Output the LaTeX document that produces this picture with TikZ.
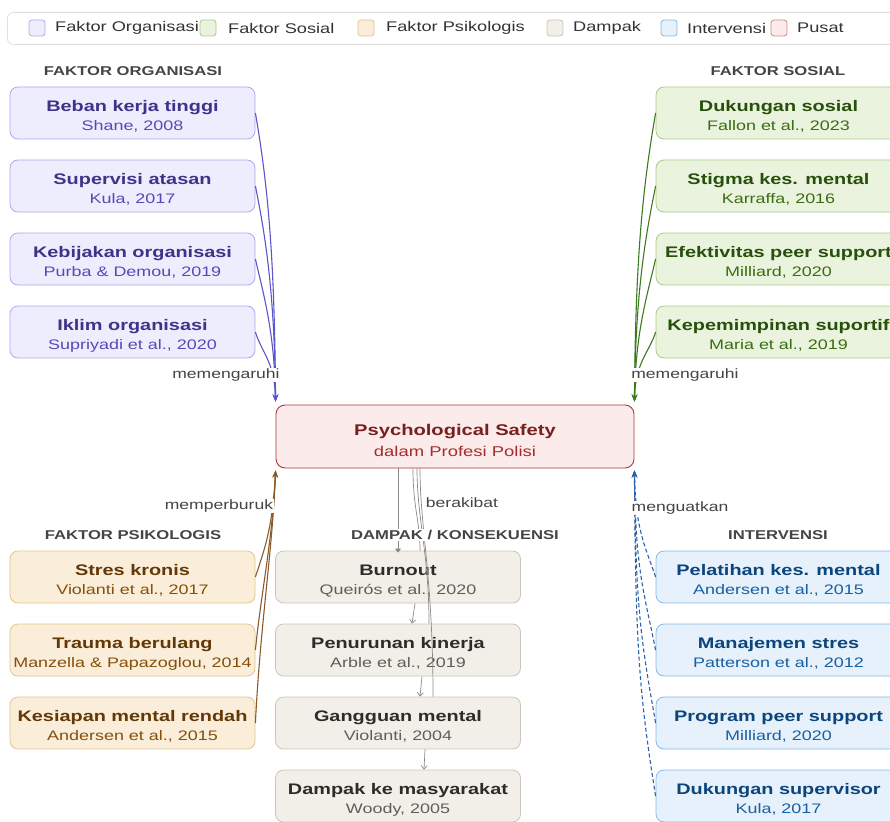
\documentclass[tikz,border=0pt]{standalone}
\usepackage{fontspec}
\setmainfont[FakeStretch=1.3]{Liberation Sans}
\usetikzlibrary{arrows.meta}
\definecolor{orgfill}{HTML}{EEEDFE}\definecolor{orgline}{HTML}{AFA9EC}\definecolor{orgtitle}{HTML}{3C3489}\definecolor{orgsub}{HTML}{534AB7}\definecolor{orgedge}{HTML}{5B55C7}
\definecolor{sosfill}{HTML}{EAF3DE}\definecolor{sosline}{HTML}{A8C98A}\definecolor{sostitle}{HTML}{27500A}\definecolor{sossub}{HTML}{3B6D11}\definecolor{sosedge}{HTML}{3B7A1F}
\definecolor{psifill}{HTML}{FAEEDA}\definecolor{psiline}{HTML}{E2C48E}\definecolor{psititle}{HTML}{633806}\definecolor{psisub}{HTML}{854F0B}\definecolor{psiedge}{HTML}{8B5A2B}
\definecolor{dmpfill}{HTML}{F1EFE8}\definecolor{dmpline}{HTML}{C8C6BE}\definecolor{dmptitle}{HTML}{2C2C2A}\definecolor{dmpsub}{HTML}{5F5E5A}\definecolor{dmpedge}{HTML}{8A8983}
\definecolor{intfill}{HTML}{E6F1FB}\definecolor{intline}{HTML}{85B7EB}\definecolor{inttitle}{HTML}{0C447C}\definecolor{intsub}{HTML}{185FA5}\definecolor{intedge}{HTML}{2A62A8}
\definecolor{cenfill}{HTML}{FCEBEB}\definecolor{cenline}{HTML}{A83A3C}\definecolor{centitle}{HTML}{791F1F}\definecolor{censub}{HTML}{A32D2D}
\definecolor{txtgray}{HTML}{444444}
\newcommand\entry[3]{{\rule{0pt}{18pt}\color{#1title}\fontsize{15.3}{19}\selectfont\bfseries #2}\\{\color{#1sub}\fontsize{13.8}{19}\selectfont #3}}
\tikzset{
  box/.style={draw, rounded corners=8pt, minimum width=245pt, minimum height=52pt, align=center, inner sep=0pt, line width=0.8pt, font=\fontsize{13.8}{19}\selectfont},
  orgbox/.style={box, fill=orgfill, draw=orgline},
  sosbox/.style={box, fill=sosfill, draw=sosline},
  psibox/.style={box, fill=psifill, draw=psiline},
  dmpbox/.style={box, fill=dmpfill, draw=dmpline},
  intbox/.style={box, fill=intfill, draw=intline},
  head/.style={font=\fontsize{12.8}{15}\selectfont\bfseries, text=txtgray, fill=white, inner sep=1pt},
  elabel/.style={font=\fontsize{13.5}{16}\selectfont, text=txtgray, fill=white, inner sep=1pt},
  tip/.style={-{Stealth[length=7pt,width=5.5pt]}},
  orgarrow/.style={tip, draw=orgedge, line width=1.1pt},
  sosarrow/.style={tip, draw=sosedge, line width=1.1pt},
  psiarrow/.style={tip, draw=psiedge, line width=1.1pt},
  intarrow/.style={tip, draw=intedge, line width=1.1pt, dash pattern=on 4pt off 2.5pt},
  dmpline/.style={draw=dmpedge, line width=0.7pt},
  chain/.style={draw=dmpedge, line width=0.7pt, -{Straight Barb[length=3.5pt,width=6pt]}},
  legsq/.style={draw, rounded corners=3pt, minimum width=16pt, minimum height=16pt, inner sep=0pt, line width=0.8pt},
  legtxt/.style={anchor=west, font=\fontsize{14}{16}\selectfont, text=black!80, inner sep=0pt}
}
\begin{document}
\begin{tikzpicture}[x=1pt,y=-1pt]
\useasboundingbox (0,0) rectangle (890,821);
% legend
\node[draw=black!12, line width=0.8pt, rounded corners=6pt, minimum width=893pt, minimum height=32pt, anchor=north west, inner sep=0pt] (legend) at (7,12) {};
\node[legsq, fill=orgfill, draw=orgline] (lg1) at (37,28) {};
\node[legtxt] (lt1) at (55,28) {Faktor Organisasi};
\node[legsq, fill=sosfill, draw=sosline] (lg2) at (208,28) {};
\node[legtxt] (lt2) at (228,28) {Faktor Sosial};
\node[legsq, fill=psifill, draw=psiline] (lg3) at (366,28) {};
\node[legtxt] (lt3) at (386,28) {Faktor Psikologis};
\node[legsq, fill=dmpfill, draw=dmpline] (lg4) at (555,28) {};
\node[legtxt] (lt4) at (573,28) {Dampak};
\node[legsq, fill=intfill, draw=intline] (lg5) at (669,28) {};
\node[legtxt] (lt5) at (687,28) {Intervensi};
\node[legsq, fill=cenfill, draw=cenline!60] (lg6) at (779,28) {};
\node[legtxt] (lt6) at (797,28) {Pusat};

% center
\node[draw=cenline, fill=cenfill, rounded corners=9pt, line width=0.9pt, minimum width=358pt, minimum height=63pt, align=center, inner sep=0pt, font=\fontsize{14.2}{21}\selectfont] (c) at (455,436.5)
  {{\rule{0pt}{20pt}\color{centitle}\fontsize{15.5}{21}\selectfont\bfseries Psychological Safety}\\{\color{censub}\fontsize{14.2}{21}\selectfont dalam Profesi Polisi}};

% organisasi
\node[orgbox] (o1) at (132.5,113) {\entry{org}{Beban kerja tinggi}{Shane, 2008}};
\node[orgbox] (o2) at (132.5,186) {\entry{org}{Supervisi atasan}{Kula, 2017}};
\node[orgbox] (o3) at (132.5,259) {\entry{org}{Kebijakan organisasi}{Purba \& Demou, 2019}};
\node[orgbox] (o4) at (132.5,332) {\entry{org}{Iklim organisasi}{Supriyadi et al., 2020}};
% sosial
\node[sosbox] (s1) at (778.5,113) {\entry{sos}{Dukungan sosial}{Fallon et al., 2023}};
\node[sosbox] (s2) at (778.5,186) {\entry{sos}{Stigma kes. mental}{Karraffa, 2016}};
\node[sosbox] (s3) at (778.5,259) {\entry{sos}{Efektivitas peer support}{Milliard, 2020}};
\node[sosbox] (s4) at (778.5,332) {\entry{sos}{Kepemimpinan suportif}{Maria et al., 2019}};
% psikologis
\node[psibox] (p1) at (132.5,577) {\entry{psi}{Stres kronis}{Violanti et al., 2017}};
\node[psibox] (p2) at (132.5,650) {\entry{psi}{Trauma berulang}{Manzella \& Papazoglou, 2014}};
\node[psibox] (p3) at (132.5,723) {\entry{psi}{Kesiapan mental rendah}{Andersen et al., 2015}};
% dampak
\node[dmpbox] (d1) at (398,577) {\entry{dmp}{Burnout}{Queirós et al., 2020}};
\node[dmpbox] (d2) at (398,650) {\entry{dmp}{Penurunan kinerja}{Arble et al., 2019}};
\node[dmpbox] (d3) at (398,723) {\entry{dmp}{Gangguan mental}{Violanti, 2004}};
\node[dmpbox] (d4) at (398,796) {\entry{dmp}{Dampak ke masyarakat}{Woody, 2005}};
% intervensi
\node[intbox] (i1) at (778.5,577) {\entry{int}{Pelatihan kes. mental}{Andersen et al., 2015}};
\node[intbox] (i2) at (778.5,650) {\entry{int}{Manajemen stres}{Patterson et al., 2012}};
\node[intbox] (i3) at (778.5,723) {\entry{int}{Program peer support}{Milliard, 2020}};
\node[intbox] (i4) at (778.5,796) {\entry{int}{Dukungan supervisor}{Kula, 2017}};

% convergence points
\coordinate (lt) at (c.north west);
\coordinate (rt) at (c.north east);
\coordinate (lb) at (c.south west);
\coordinate (rb) at (c.south east);

% organisasi edges
\draw[orgarrow] (o1.east) .. controls +(12,70) and +(-1,-150) .. ([yshift=3pt]lt);
\draw[orgarrow] (o2.east) .. controls +(10,50) and +(-1,-110) .. ([yshift=3pt]lt);
\draw[orgarrow] (o3.east) .. controls +(8,35) and +(-1,-70) .. ([yshift=3pt]lt);
\draw[orgarrow] (o4.east) .. controls +(6,20) and +(-1,-40) .. ([yshift=3pt]lt);
% sosial edges
\draw[sosarrow] (s1.west) .. controls +(-12,70) and +(1,-150) .. ([yshift=3pt]rt);
\draw[sosarrow] (s2.west) .. controls +(-10,50) and +(1,-110) .. ([yshift=3pt]rt);
\draw[sosarrow] (s3.west) .. controls +(-8,35) and +(1,-70) .. ([yshift=3pt]rt);
\draw[sosarrow] (s4.west) .. controls +(-6,20) and +(1,-40) .. ([yshift=3pt]rt);
% psikologis edges
\draw[psiarrow] (p1.east) .. controls +(8,-25) and +(-3,60) .. ([yshift=-2pt]lb);
\draw[psiarrow] (p2.east) .. controls +(6,-60) and +(-3,70) .. ([yshift=-2pt]lb);
\draw[psiarrow] (p3.east) .. controls +(5,-100) and +(-3,80) .. ([yshift=-2pt]lb);
% intervensi edges
\draw[intarrow] (i1.west) .. controls +(-10,-30) and +(1,60) .. ([yshift=-2pt]rb);
\draw[intarrow] (i2.west) .. controls +(-12,-60) and +(1,100) .. ([yshift=-2pt]rb);
\draw[intarrow] (i3.west) .. controls +(-14,-80) and +(1,140) .. ([yshift=-2pt]rb);
\draw[intarrow] (i4.west) .. controls +(-16,-100) and +(1,180) .. ([yshift=-2pt]rb);

% dampak edges
\draw[dmpline, -{Triangle[length=4pt,width=6pt]}] (c.south -| d1.north) -- ([yshift=-2pt]d1.north);
\draw[dmpline] ([xshift=-42pt]c.south) .. controls +(0,40) and +(0,-30) .. ([xshift=22pt]d1.north);
\draw[dmpline] ([xshift=-38pt]c.south) .. controls +(0,50) and +(0,-70) .. ([xshift=31pt]d2.north);
\draw[dmpline] ([xshift=-35pt]c.south) .. controls +(0,60) and +(0,-120) .. ([xshift=35pt]d3.north);
\draw[chain] ([xshift=17pt]d1.south) -- ([xshift=14pt]d2.north);
\draw[chain] ([xshift=24pt]d2.south) -- ([xshift=22pt]d3.north);
\draw[chain] ([xshift=27pt]d3.south) -- ([xshift=26pt]d4.north);

% headers
\node[head] (h1) at (133,71) {FAKTOR ORGANISASI};
\node[head] (h2) at (778,71) {FAKTOR SOSIAL};
\node[head] (h3) at (133,535) {FAKTOR PSIKOLOGIS};
\node[head] (h4) at (455,535) {DAMPAK / KONSEKUENSI};
\node[head] (h5) at (778,535) {INTERVENSI};

% edge labels
\node[elabel] (l1) at (226,375) {memengaruhi};
\node[elabel] (l2) at (685,375) {memengaruhi};
\node[elabel] (l3) at (219,506) {memperburuk};
\node[elabel] (l4) at (680,508) {menguatkan};
\node[elabel, fill=none] (l5) at (462,503) {berakibat};
\end{tikzpicture}
\end{document}
